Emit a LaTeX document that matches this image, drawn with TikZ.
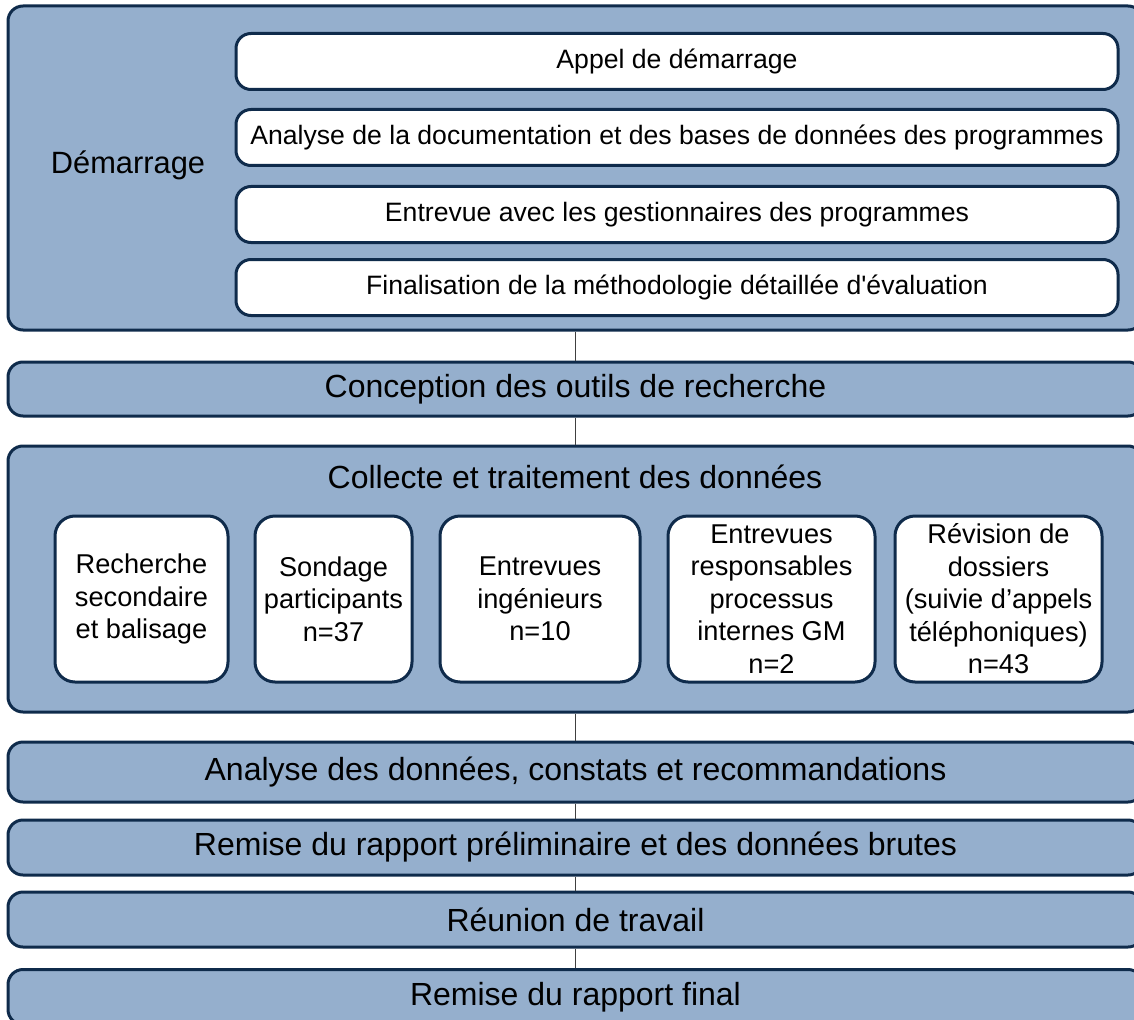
\documentclass[tikz,border=0pt]{standalone}
\usepackage{fontspec}
\setmainfont{Liberation Sans}
\usepackage{xcolor}
\definecolor{PhaseFill}{HTML}{95AFCD}
\definecolor{PhaseLine}{HTML}{0F2B4B}
\definecolor{LinkGray}{HTML}{404040}
\usepackage{tikz}
\tikzset{
  phasebox/.style={
    draw=PhaseLine,
    fill=PhaseFill,
    rounded corners=15pt,
    line width=3pt,
    inner sep=0pt,
    font=\fontsize{32}{38}\selectfont
  },
  stepbox/.style={
    draw=PhaseLine,
    fill=white,
    rounded corners=15pt,
    line width=3pt,
    minimum width=882pt,
    minimum height=56pt,
    inner sep=0pt,
    font=\fontsize{26.6}{32}\selectfont
  },
  taskbox/.style={
    draw=PhaseLine,
    fill=white,
    rounded corners=20pt,
    line width=3pt,
    minimum height=166pt,
    inner sep=0pt,
    align=center,
    font=\fontsize{27.2}{32.5}\selectfont
  },
  phaselabel/.style={
    inner sep=0pt,
    font=\fontsize{32}{38}\selectfont
  },
  phaselink/.style={
    draw=LinkGray,
    line width=1pt
  }
}

\begin{document}
\begin{tikzpicture}[x=1pt,y=-1pt]
  \useasboundingbox (0,0) rectangle (1134,1019);
  % phase 1: start-up
  \node[phasebox, minimum width=1135pt, minimum height=324pt] (demarrage) at (575.5,168) {};
  \node[phaselabel, font=\fontsize{30.8}{36}\selectfont] (demlabel) at (128,165) {Démarrage};
  \node[stepbox] (appel) at (677,61.5) {Appel de démarrage};
  \node[stepbox] (docs) at (677,137.5) {Analyse de la documentation et des bases de données des programmes};
  \node[stepbox] (gestion) at (677,214.5) {Entrevue avec les gestionnaires des programmes};
  \node[stepbox] (methodo) at (677,287.5) {Finalisation de la méthodologie détaillée d\textquotesingle évaluation};
  % phase 2
  \node[phasebox, minimum width=1135pt, minimum height=54pt] (conception) at (575.5,389) {Conception des outils de recherche};
  % phase 3: data collection
  \node[phasebox, minimum width=1135pt, minimum height=266pt] (collecte) at (575.5,579) {};
  \node[phaselabel] (collabel) at (575,477) {Collecte et traitement des données};
  \node[taskbox, minimum width=173pt] (recherche) at (141.5,599) {Recherche\\secondaire\\et balisage};
  \node[taskbox, minimum width=157pt] (sondage) at (333.5,599) {Sondage\\participants\\n=37};
  \node[taskbox, minimum width=200pt] (ingenieurs) at (540,599) {Entrevues\\ingénieurs\\n=10};
  \node[taskbox, minimum width=207pt] (internes) at (771.5,599) {Entrevues\\responsables\\processus\\internes GM\\n=2};
  \node[taskbox, minimum width=207pt] (dossiers) at (998.5,599) {Révision de\\dossiers\\(suivie d’appels\\téléphoniques)\\n=43};
  % remaining phases
  \node[phasebox, minimum width=1135pt, minimum height=60pt] (analyse) at (575.5,772) {Analyse des données, constats et recommandations};
  \node[phasebox, minimum width=1135pt, minimum height=55pt] (preliminaire) at (575.5,847.5) {Remise du rapport préliminaire et des données brutes};
  \node[phasebox, minimum width=1135pt, minimum height=55pt] (reunion) at (575.5,919.5) {Réunion de travail};
  \node[phasebox, minimum width=1135pt, minimum height=55pt] (final) at (575.5,997) {Remise du rapport final};
  \foreach \upper/\lower in {demarrage/conception,conception/collecte,collecte/analyse,analyse/preliminaire,preliminaire/reunion,reunion/final}{\draw[phaselink] (\upper.south) -- (\lower.north);}
\end{tikzpicture}
\end{document}
